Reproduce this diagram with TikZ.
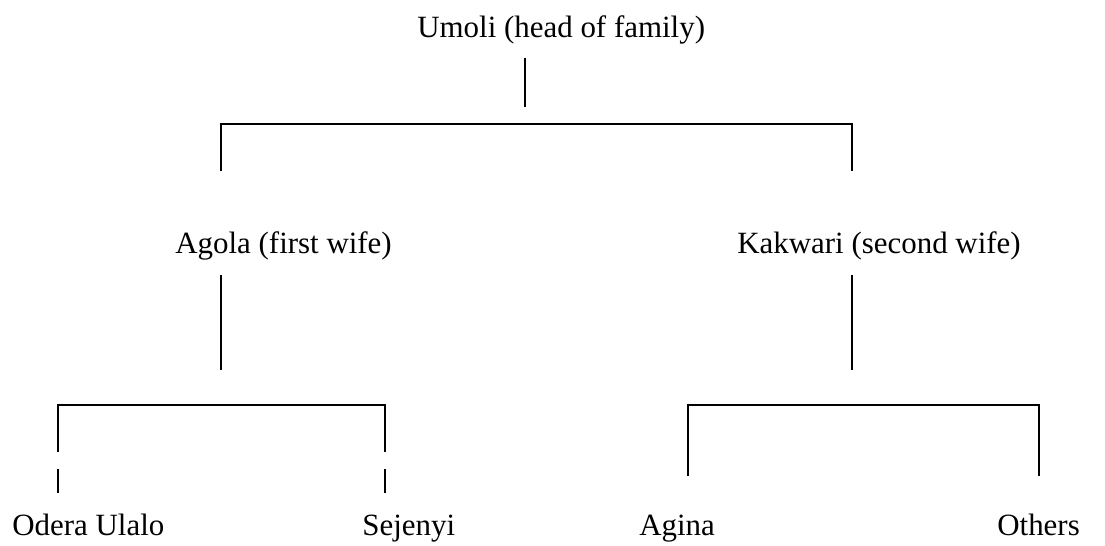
\documentclass[tikz,border=0pt]{standalone}
\usepackage{fontspec}
\setmainfont{Liberation Serif}
\usetikzlibrary{positioning, calc}

\begin{document}
\begin{tikzpicture}[x=0.02cm, y=-0.02cm,
    every node/.style={font=\fontsize{17.6}{20}\selectfont, inner sep=0pt, anchor=base west},
    tree/.style={line width=0.85pt}]
    \useasboundingbox (0,0) rectangle (1105,545);

    % --- Umoli ---
    \node (umoli) at (417,37) {Umoli (head of family)};
    \coordinate (umoliTop) at (525,58);
    \coordinate (umoliBot) at (525,107);
    \draw[tree] (umoliTop) -- (umoliBot);

    % Bracket to wives
    \coordinate (wifeL) at (221,124);
    \coordinate (wifeR) at (852,124);
    \draw[tree] ($(wifeL)+(0,47)$) -- (wifeL) -- (wifeR) -- ($(wifeR)+(0,47)$);

    % --- Wives ---
    \node (agola) at (175,253) {Agola (first wife)};
    \node (kakwari) at (737,253) {Kakwari (second wife)};
    \draw[tree] (221,275) coordinate (agolaTop) -- (221,370) coordinate (agolaBot);
    \draw[tree] (852,275) coordinate (kakTop) -- (852,370) coordinate (kakBot);

    % Bracket under Agola (legs broken)
    \coordinate (agL) at (58,405);
    \coordinate (agR) at (385,405);
    \draw[tree] ($(agL)+(0,47)$) -- (agL) -- (agR) -- ($(agR)+(0,47)$);
    \foreach \c in {agL, agR} {
        \draw[tree] ($(\c)+(0,64)$) -- ($(\c)+(0,88)$);
    }

    % Bracket under Kakwari
    \coordinate (kkL) at (688,405);
    \coordinate (kkR) at (1039,405);
    \draw[tree] ($(kkL)+(0,71)$) -- (kkL) -- (kkR) -- ($(kkR)+(0,71)$);

    % --- Children ---
    \node (odera) at (12,535) {Odera Ulalo};
    \node (sejenyi) at (362,535) {Sejenyi};
    \node (agina) at (639,535) {Agina};
    \node (others) at (997,535) {Others};

\end{tikzpicture}
\end{document}
